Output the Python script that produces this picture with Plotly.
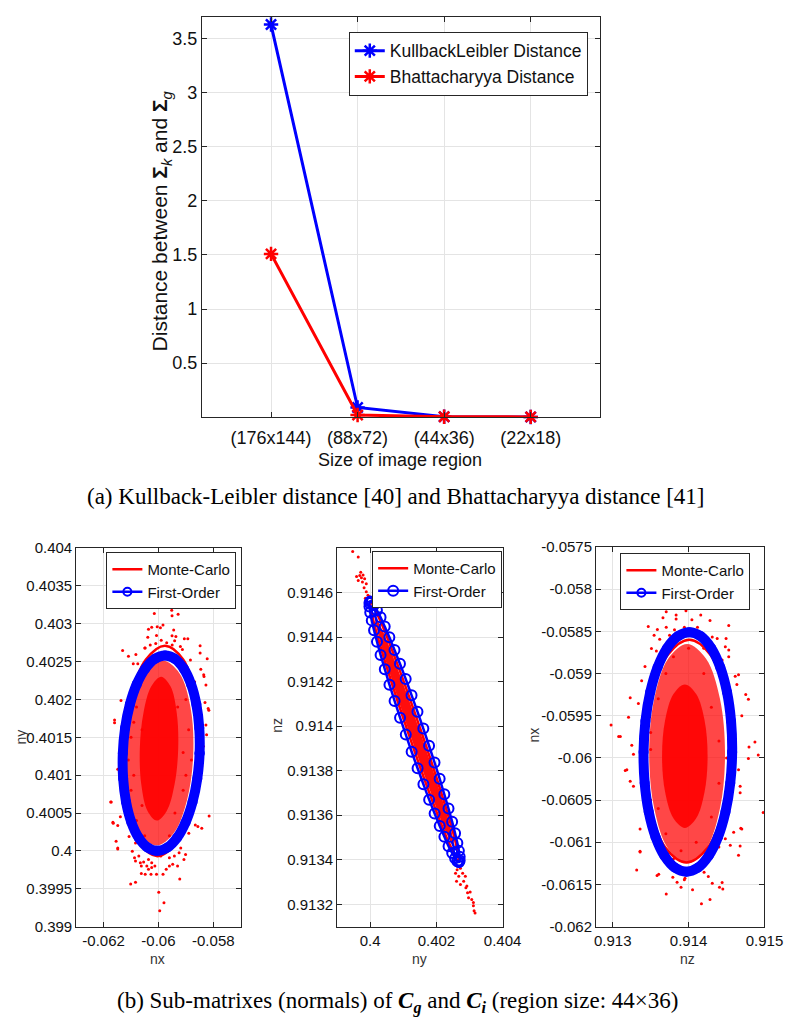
import plotly.graph_objects as go

W, H = 793, 1020


def px(x):
    return x / W


def py(y):
    return 1 - y / H


# ---------------- (a) distances ----------------
regions = ["(176x144)", "(88x72)", "(44x36)", "(22x18)"]
kl_distance = [3.63, 0.09, 0.005, 0.002]
bhatt_distance = [1.51, 0.02, 0.004, 0.003]
top_y_ticks = [0.5, 1, 1.5, 2, 2.5, 3, 3.5]
top_y_text = ["0.5", "1", "1.5", "2", "2.5", "3", "3.5"]

# ---------------- (b) panel 1: nx vs ny ----------------
p1_x_ticks = [-0.062, -0.06, -0.058]
p1_x_text = ["-0.062", "-0.06", "-0.058"]
p1_y_ticks = [0.399, 0.3995, 0.4, 0.4005, 0.401, 0.4015, 0.402, 0.4025, 0.403, 0.4035, 0.404]
p1_y_text = ["0.399", "0.3995", "0.4", "0.4005", "0.401", "0.4015", "0.402", "0.4025", "0.403", "0.4035", "0.404"]

p1_fo_nx = [-0.0585, -0.058512, -0.058618, -0.058811, -0.059079, -0.059402, -0.05976, -0.060128,
            -0.060479, -0.060791, -0.061042, -0.061216, -0.0613, -0.061288, -0.061182, -0.060989,
            -0.060721, -0.060398, -0.06004, -0.059672, -0.059321, -0.059009, -0.058758, -0.058584, -0.0585]
p1_fo_ny = [0.40129, 0.401624, 0.401935, 0.402202, 0.402407, 0.402536, 0.40258, 0.402536,
            0.402407, 0.402202, 0.401935, 0.401624, 0.40129, 0.400956, 0.400645, 0.400378,
            0.400173, 0.400044, 0.4, 0.400044, 0.400173, 0.400378, 0.400645, 0.400956, 0.40129]
p1_mc_nx = [-0.05853, -0.058644, -0.059094, -0.05976, -0.060464, -0.061016, -0.06127,
            -0.061156, -0.060706, -0.06004, -0.059336, -0.058784, -0.05853]
p1_mc_ny = [0.40132, 0.402015, 0.402524, 0.40271, 0.402524, 0.402015, 0.40132,
            0.400625, 0.400116, 0.39993, 0.400116, 0.400625, 0.40132]
p1_spread_nx = [-0.05873, -0.058833, -0.059236, -0.05983, -0.060456, -0.060947, -0.06117,
                -0.061067, -0.060664, -0.06007, -0.059444, -0.058953, -0.05873]
p1_spread_ny = [0.40129, 0.4019, 0.402347, 0.40251, 0.402347, 0.4019, 0.40129,
                0.40068, 0.400233, 0.40007, 0.400233, 0.40068, 0.40129]
p1_core_nx = [-0.05928, -0.059334, -0.059561, -0.0599, -0.060261, -0.060546, -0.06068,
              -0.060626, -0.060399, -0.06006, -0.059699, -0.059414, -0.05928]
p1_core_ny = [0.40135, 0.401825, 0.402173, 0.4023, 0.402173, 0.401825, 0.40135,
              0.400875, 0.400527, 0.4004, 0.400527, 0.400875, 0.40135]
p1_samples = [
    (-0.059742, 0.403394), (-0.060152, 0.403134), (-0.059516, 0.403178), (-0.059505, 0.403104),
    (-0.059283, 0.403126), (-0.059834, 0.402983), (-0.060046, 0.402961), (-0.059929, 0.402948),
    (-0.060247, 0.402952), (-0.060364, 0.402926), (-0.059445, 0.402918), (-0.060071, 0.402844),
    (-0.060389, 0.402822), (-0.059505, 0.40284), (-0.059364, 0.402831), (-0.059057, 0.402801),
    (-0.058929, 0.402801), (-0.05941, 0.402775), (-0.058481, 0.40271), (-0.061307, 0.402645),
    (-0.061095, 0.402571), (-0.060823, 0.402594), (-0.060484, 0.402679), (-0.059127, 0.402658),
    (-0.058481, 0.402614), (-0.058223, 0.402536), (-0.058834, 0.40252), (-0.060919, 0.402471),
    (-0.060753, 0.402471), (-0.058456, 0.402399), (-0.058339, 0.402303), (-0.058269, 0.402191),
    (-0.058682, 0.402234), (-0.0603, 0.40272), (-0.0601, 0.40274), (-0.0597, 0.40275),
    (-0.0595, 0.40272), (-0.0599, 0.40278), (-0.0605, 0.40268), (-0.0592, 0.4027),
    (-0.061367, 0.401987), (-0.061601, 0.401727), (-0.061484, 0.401078), (-0.061721, 0.400645),
    (-0.058187, 0.401879), (-0.058269, 0.401662), (-0.058244, 0.401532), (-0.058364, 0.401381),
    (-0.058421, 0.401121), (-0.05835, 0.402325), (-0.058304, 0.40196), (-0.058163, 0.401857),
    (-0.061601, 0.401692), (-0.061742, 0.400645), (-0.06165, 0.400364), (-0.061484, 0.400026),
    (-0.061661, 0.400377), (-0.061484, 0.400334), (-0.061389, 0.400451), (-0.061544, 0.400126),
    (-0.061484, 0.400039), (-0.061071, 0.400191), (-0.060954, 0.399996), (-0.060837, 0.400104),
    (-0.060873, 0.399909), (-0.060661, 0.399844), (-0.060541, 0.399853), (-0.060625, 0.399801),
    (-0.060424, 0.399801), (-0.060247, 0.399779), (-0.060364, 0.399757), (-0.060131, 0.399801),
    (-0.060071, 0.399692), (-0.059834, 0.399692), (-0.060272, 0.399692), (-0.060484, 0.399692),
    (-0.060625, 0.399701), (-0.059717, 0.399757), (-0.059601, 0.399801), (-0.059481, 0.399822),
    (-0.059304, 0.399801), (-0.059071, 0.399887), (-0.059011, 0.399952), (-0.059247, 0.399974),
    (-0.059187, 0.400039), (-0.058894, 0.400234), (-0.058657, 0.400342), (-0.058562, 0.400321),
    (-0.058421, 0.400299), (-0.058152, 0.400459), (-0.060837, 0.399584), (-0.061014, 0.399562),
    (-0.059223, 0.399627), (-0.059989, 0.399455), (-0.059799, 0.399316), (-0.059954, 0.399208),
    (-0.059919, 0.399931), (-0.05942, 0.399931), (-0.059601, 0.399909), (-0.060837, 0.399866),
    (-0.060717, 0.399931), (-0.060364, 0.399887), (-0.060247, 0.399844),
    (-0.061, 0.4015), (-0.0609, 0.401), (-0.0611, 0.4012), (-0.0608, 0.4019), (-0.0607, 0.4022),
    (-0.0606, 0.4006), (-0.0608, 0.4004), (-0.0605, 0.4002), (-0.0589, 0.4016), (-0.059, 0.402),
    (-0.0588, 0.4012), (-0.0591, 0.4008), (-0.0589, 0.4023), (-0.0592, 0.4025), (-0.0594, 0.4005),
    (-0.0596, 0.4002), (-0.0603, 0.4025), (-0.0598, 0.4026), (-0.0592, 0.4003), (-0.0604, 0.4001),
    (-0.061, 0.4008), (-0.0606, 0.4016), (-0.0591, 0.4013), (-0.0593, 0.4019), (-0.0609, 0.4017),
    (-0.059, 0.401),
]

# ---------------- (b) panel 2: ny vs nz ----------------
p2_x_ticks = [0.4, 0.402, 0.404]
p2_x_text = ["0.4", "0.402", "0.404"]
p2_y_ticks = [0.9132, 0.9134, 0.9136, 0.9138, 0.914, 0.9142, 0.9144, 0.9146]
p2_y_text = ["0.9132", "0.9134", "0.9136", "0.9138", "0.914", "0.9142", "0.9144", "0.9146"]

p2_fo_ny = [0.40268, 0.402703, 0.402703, 0.402679, 0.402633, 0.402564, 0.402475, 0.402366,
            0.402239, 0.402098, 0.401943, 0.401778, 0.401605, 0.401428, 0.401249, 0.401072,
            0.400899, 0.400734, 0.400579, 0.400438, 0.400313, 0.400203, 0.400115, 0.400047,
            0.4, 0.399977, 0.399977, 0.400001, 0.400047, 0.400116, 0.400205, 0.400314,
            0.400441, 0.400582, 0.400737, 0.400902, 0.401075, 0.401252, 0.401431, 0.401608,
            0.401781, 0.401946, 0.402101, 0.402242, 0.402367, 0.402477, 0.402565, 0.402633, 0.40268]
p2_fo_nz = [0.91339, 0.913397, 0.913414, 0.91344, 0.913475, 0.913519, 0.913571, 0.91363,
            0.913694, 0.913764, 0.913837, 0.913912, 0.913989, 0.914065, 0.914139, 0.914212,
            0.91428, 0.914342, 0.914399, 0.914447, 0.914489, 0.91452, 0.914544, 0.914557,
            0.91456, 0.914553, 0.914537, 0.91451, 0.914475, 0.914431, 0.914379, 0.91432,
            0.914256, 0.914186, 0.914113, 0.914038, 0.913962, 0.913885, 0.913811, 0.913739,
            0.91367, 0.913608, 0.913552, 0.913503, 0.913461, 0.91343, 0.913407, 0.913393, 0.91339]
p2_mc_ny = [0.40267, 0.402582, 0.402161, 0.40152, 0.400831, 0.400278, 0.40001,
            0.400098, 0.400519, 0.40116, 0.401849, 0.402402, 0.40267]
p2_mc_nz = [0.913395, 0.913478, 0.913694, 0.913985, 0.914274, 0.914482, 0.914555,
            0.914472, 0.914256, 0.913965, 0.913676, 0.913468, 0.913395]
p2_core_ny = [0.40254, 0.402454, 0.40207, 0.40149, 0.40087, 0.400376, 0.40014,
              0.400226, 0.40061, 0.40119, 0.40181, 0.402304, 0.40254]
p2_core_nz = [0.913455, 0.913529, 0.913722, 0.913983, 0.914242, 0.914429, 0.914495,
              0.914421, 0.914229, 0.913968, 0.913709, 0.913518, 0.913455]
p2_samples = [
    (0.399471, 0.914784), (0.399638, 0.91476), (0.399714, 0.914691), (0.399588, 0.914672),
    (0.399685, 0.914676), (0.399785, 0.914679), (0.399735, 0.914666), (0.399832, 0.914662),
    (0.399638, 0.914654), (0.399765, 0.914647), (0.399882, 0.91464), (0.399815, 0.914621),
    (0.399882, 0.914603), (0.399932, 0.914588), (0.399979, 0.914581), (0.399853, 0.914574),
    (0.400059, 0.914574), (0.399882, 0.914566),
    (0.402626, 0.913355), (0.402726, 0.913362), (0.402579, 0.91334), (0.402794, 0.91334),
    (0.402676, 0.913326), (0.402874, 0.913326), (0.402609, 0.913304), (0.402824, 0.913304),
    (0.402726, 0.913289), (0.402891, 0.913274), (0.402941, 0.913252), (0.402971, 0.91323),
    (0.403068, 0.913222), (0.403118, 0.913208), (0.403021, 0.913255), (0.403118, 0.913193),
    (0.403138, 0.913171), (0.403168, 0.913161), (0.402921, 0.913282),
]

# ---------------- (b) panel 3: nz vs nx ----------------
p3_x_ticks = [0.913, 0.914, 0.915]
p3_x_text = ["0.913", "0.914", "0.915"]
p3_y_ticks = [-0.062, -0.0615, -0.061, -0.0605, -0.06, -0.0595, -0.059, -0.0585, -0.058, -0.0575]
p3_y_text = ["-0.062", "-0.0615", "-0.061", "-0.0605", "-0.06", "-0.0595", "-0.059", "-0.0585", "-0.058", "-0.0575"]

p3_fo_nz = [0.914574, 0.914559, 0.914506, 0.914417, 0.914299, 0.91416, 0.91401, 0.913858,
            0.913715, 0.913591, 0.913494, 0.913431, 0.913406, 0.913421, 0.913474, 0.913563,
            0.913681, 0.91382, 0.91397, 0.914122, 0.914265, 0.914389, 0.914486, 0.914549, 0.914574]
p3_fo_nx = [-0.05993, -0.059562, -0.05922, -0.058926, -0.0587, -0.058558, -0.05851, -0.058558,
            -0.0587, -0.058926, -0.05922, -0.059562, -0.05993, -0.060298, -0.06064, -0.060934,
            -0.06116, -0.061302, -0.06135, -0.061302, -0.06116, -0.060934, -0.06064, -0.060298, -0.05993]
p3_mc_nz = [0.91455, 0.914485, 0.914287, 0.91401, 0.913727, 0.913515, 0.91343,
            0.913495, 0.913693, 0.91397, 0.914253, 0.914465, 0.91455]
p3_mc_nx = [-0.05992, -0.05926, -0.058777, -0.0586, -0.058777, -0.05926, -0.05992,
            -0.06058, -0.061063, -0.06124, -0.061063, -0.06058, -0.05992]
p3_spread_nz = [0.91448, 0.914413, 0.91423, 0.91398, 0.91373, 0.913547, 0.91348,
                0.913547, 0.91373, 0.91398, 0.91423, 0.914413, 0.91448]
p3_spread_nx = [-0.05995, -0.0593, -0.058824, -0.05865, -0.058824, -0.0593, -0.05995,
                -0.0606, -0.061076, -0.06125, -0.061076, -0.0606, -0.05995]
p3_core_nz = [0.91425, 0.91421, 0.9141, 0.91395, 0.9138, 0.91369, 0.91365,
              0.91369, 0.9138, 0.91395, 0.9141, 0.91421, 0.91425]
p3_core_nx = [-0.05998, -0.059555, -0.059244, -0.05913, -0.059244, -0.059555, -0.05998,
              -0.060405, -0.060716, -0.06083, -0.060716, -0.060405, -0.05998]
p3_samples = [
    (0.913857, -0.05808), (0.914477, -0.05815), (0.913562, -0.058223), (0.913705, -0.058267),
    (0.913835, -0.058305), (0.913965, -0.058255), (0.91416, -0.058305), (0.913662, -0.05834),
    (0.913835, -0.058352), (0.914043, -0.058363), (0.914282, -0.058372), (0.913468, -0.058442),
    (0.913588, -0.058477), (0.913705, -0.05845), (0.913814, -0.05848), (0.913944, -0.05845),
    (0.914117, -0.05845), (0.914529, -0.05843), (0.913545, -0.058547), (0.913619, -0.058593),
    (0.913749, -0.058547), (0.914312, -0.058567), (0.914377, -0.058585), (0.914494, -0.058585),
    (0.91351, -0.058702), (0.913575, -0.058733), (0.914484, -0.058683), (0.914529, -0.058722),
    (0.913425, -0.058917), (0.914614, -0.059033), (0.914658, -0.059014), (0.913381, -0.059084),
    (0.914636, -0.05913), (0.914529, -0.0588), (0.914442, -0.058839),
    (0.912978, -0.059609), (0.91323, -0.059286), (0.913338, -0.059356), (0.9131, -0.059745),
    (0.913273, -0.059956), (0.913186, -0.060142), (0.913273, -0.060336), (0.91336, -0.061115),
    (0.914753, -0.059247), (0.914874, -0.059811), (0.914918, -0.059967), (0.914983, -0.060648),
    (0.914796, -0.05987), (0.914679, -0.060336), (0.914701, -0.060843), (0.914658, -0.061153),
    (0.913208, -0.059519), (0.913078, -0.059745), (0.913251, -0.05985), (0.913165, -0.060149),
    (0.91323, -0.060278), (0.914788, -0.059305), (0.914701, -0.0595), (0.914788, -0.060006),
    (0.914658, -0.060142), (0.914679, -0.060414), (0.91336, -0.060843),
    (0.913316, -0.061328), (0.91336, -0.061107), (0.913584, -0.061395), (0.913606, -0.06138),
    (0.913792, -0.061415), (0.913848, -0.061473), (0.913944, -0.061445), (0.913952, -0.061426),
    (0.9139, -0.061535), (0.914052, -0.061562), (0.914204, -0.061356), (0.91426, -0.061407),
    (0.914312, -0.061485), (0.914442, -0.061477), (0.914407, -0.061535), (0.914451, -0.061555),
    (0.913705, -0.061613), (0.914169, -0.06173), (0.914282, -0.061679), (0.914549, -0.061037),
    (0.914679, -0.061045), (0.914688, -0.060835), (0.914594, -0.060881), (0.914484, -0.06096),
    (0.914399, -0.061056),
    (0.9135, -0.0597), (0.9136, -0.0593), (0.9134, -0.0601), (0.9135, -0.0605), (0.9137, -0.059),
    (0.9138, -0.0588), (0.9143, -0.0594), (0.9144, -0.0598), (0.9142, -0.059), (0.9144, -0.0603),
    (0.9143, -0.0607), (0.9141, -0.061), (0.9137, -0.0609), (0.9136, -0.0606), (0.9139, -0.0611),
    (0.9142, -0.0587), (0.9145, -0.06), (0.9135, -0.0599), (0.914, -0.0587), (0.9138, -0.0612),
]

BLUE = "#0000ff"
RED = "#ff0000"
AXC = "#262626"
SANS = "Liberation Sans, Arial, sans-serif"
SERIF = "Liberation Serif, Times New Roman, serif"

fig = go.Figure()

# ---- top chart ----
for name, vals, col in [("KullbackLeibler Distance", kl_distance, BLUE),
                        ("Bhattacharyya Distance", bhatt_distance, RED)]:
    fig.add_trace(go.Scatter(
        x=regions, y=vals, name=name, mode="lines+markers", cliponaxis=False,
        line=dict(color=col, width=3),
        marker=dict(symbol="asterisk-open", size=12, color=col, line=dict(color=col, width=2.5)),
        xaxis="x", yaxis="y", legend="legend"))


def add_panel(n, leg, samples, mc_x, mc_y, fo_x, fo_y, fills, band_width, ring_marker):
    xa, ya = "x%d" % n, "y%d" % n
    for fx, fy, col in fills:
        fig.add_trace(go.Scatter(x=fx, y=fy, mode="lines", fill="toself", fillcolor=col,
                                 line=dict(width=0, shape="spline", color=col),
                                 showlegend=False, hoverinfo="skip", xaxis=xa, yaxis=ya))
    sx, sy = zip(*samples)
    fig.add_trace(go.Scatter(x=list(sx), y=list(sy), mode="markers",
                             marker=dict(color=RED, size=3, line=dict(width=0)),
                             showlegend=False, hoverinfo="skip", xaxis=xa, yaxis=ya))
    fig.add_trace(go.Scatter(x=mc_x, y=mc_y, mode="lines", name="Monte-Carlo",
                             line=dict(color=RED, width=2.5, shape="spline"),
                             xaxis=xa, yaxis=ya, legend=leg))
    if band_width:
        fig.add_trace(go.Scatter(x=fo_x, y=fo_y, mode="lines", showlegend=False, hoverinfo="skip",
                                 line=dict(color=BLUE, width=band_width, shape="spline"),
                                 xaxis=xa, yaxis=ya))
    fig.add_trace(go.Scatter(x=fo_x, y=fo_y, mode="lines+markers", name="First-Order",
                             line=dict(color=BLUE, width=2.5, shape="spline"),
                             marker=dict(symbol="circle-open", size=ring_marker, color=BLUE,
                                         line=dict(color=BLUE, width=2)),
                             xaxis=xa, yaxis=ya, legend=leg))


add_panel(2, "legend2", p1_samples, p1_mc_nx, p1_mc_ny, p1_fo_nx, p1_fo_ny,
          [(p1_spread_nx, p1_spread_ny, "rgba(255,0,0,0.72)"),
           (p1_core_nx, p1_core_ny, "rgba(255,0,0,0.9)")], 10, 8)
add_panel(3, "legend3", p2_samples, p2_mc_ny, p2_mc_nz, p2_fo_ny, p2_fo_nz,
          [(p2_core_ny, p2_core_nz, "rgba(255,0,0,0.95)")], 0, 10)
add_panel(4, "legend4", p3_samples, p3_mc_nz, p3_mc_nx, p3_fo_nz, p3_fo_nx,
          [(p3_spread_nz, p3_spread_nx, "rgba(255,0,0,0.72)"),
           (p3_core_nz, p3_core_nx, "rgba(255,0,0,0.9)")], 10, 8)


def axis(domain, rng, tickvals, ticktext, anchor, size=15, **kw):
    d = dict(domain=domain, range=rng, tickvals=tickvals, ticktext=ticktext, anchor=anchor,
             showline=True, linecolor=AXC, linewidth=1, mirror="ticks", ticks="inside",
             ticklen=5, tickcolor=AXC, showgrid=True, gridcolor="#e4e4e4", gridwidth=1,
             zeroline=False, tickfont=dict(family=SANS, size=size, color="#111111"))
    d.update(kw)
    return d


yb = [py(925), py(540)]
fig.update_layout(
    width=W, height=H, autosize=False,
    margin=dict(l=0, r=0, t=0, b=0),
    paper_bgcolor="white", plot_bgcolor="white",
    font=dict(family=SANS, color="#111111"),
    showlegend=True,
    xaxis=dict(domain=[px(197), px(606)], type="category", range=[-0.8, 3.8], anchor="y",
               showline=True, linecolor=AXC, linewidth=1, mirror="ticks", ticks="inside",
               ticklen=5, tickcolor=AXC, showgrid=True, gridcolor="#e4e4e4", zeroline=False,
               tickfont=dict(family=SANS, size=18, color="#111111"), ticklabelstandoff=4),
    yaxis=axis([py(407), 1.0], [0, 3.7], top_y_ticks, top_y_text, "x", size=18),
    xaxis2=axis([px(68), px(237)], [-0.063, -0.057], p1_x_ticks, p1_x_text, "y2"),
    yaxis2=axis(yb, [0.399, 0.404], p1_y_ticks, p1_y_text, "x2"),
    xaxis3=axis([px(336), px(506)], [0.399, 0.404], p2_x_ticks, p2_x_text, "y3"),
    yaxis3=axis(yb, [0.9131, 0.9148], p2_y_ticks, p2_y_text, "x3"),
    xaxis4=axis([px(602), px(775)], [0.91278, 0.915], p3_x_ticks, p3_x_text, "y4"),
    yaxis4=axis([py(925), py(539)], [-0.062, -0.0575], p3_y_ticks, p3_y_text, "x4"),
)

leg_common = dict(xanchor="left", yanchor="top", bgcolor="white", bordercolor=AXC, borderwidth=1,
                  tracegroupgap=0)
fig.update_layout(
    legend=dict(x=px(348), y=py(15), font=dict(family=SANS, size=17.5, color="#111111"), **leg_common),
    legend2=dict(x=px(99), y=py(544), font=dict(family=SANS, size=15, color="#111111"), **leg_common),
    legend3=dict(x=px(372), y=py(543), font=dict(family=SANS, size=15, color="#111111"), **leg_common),
    legend4=dict(x=px(627), y=py(545), font=dict(family=SANS, size=15, color="#111111"), **leg_common),
)

ann = []


def add_text(x, y, text, size, family=SANS, angle=0, color="#111111"):
    ann.append(dict(x=px(x), y=py(y), xref="paper", yref="paper", text=text, showarrow=False,
                    textangle=angle, xanchor="center", yanchor="middle",
                    font=dict(family=family, size=size, color=color)))


add_text(155, 207, "Distance between <b>Σ</b><sub><i>k</i></sub> and <b>Σ</b><sub><i>g</i></sub>", 21, angle=-90)
add_text(401, 450, "Size of image region", 18)
add_text(397, 488, "(a) Kullback-Leibler distance [40] and Bhattacharyya distance [41]", 23,
         family=SERIF, color="#000000")
add_text(152, 958, "nx", 14, color="#333333")
add_text(421, 958, "ny", 14, color="#333333")
add_text(696, 958, "nz", 14, color="#333333")
add_text(11, 732, "ny", 14, angle=-90, color="#333333")
add_text(274, 720, "nz", 14, angle=-90, color="#333333")
add_text(538, 730, "nx", 14, angle=-90, color="#333333")
add_text(398, 1002, "(b) Sub-matrixes (normals) of <b><i>C</i></b><sub><b><i>g</i></b></sub> and "
                    "<b><i>C</i></b><sub><b><i>i</i></b></sub> (region size: 44×36)", 23,
         family=SERIF, color="#000000")
fig.update_layout(annotations=ann)

fig.write_html("out.html")
